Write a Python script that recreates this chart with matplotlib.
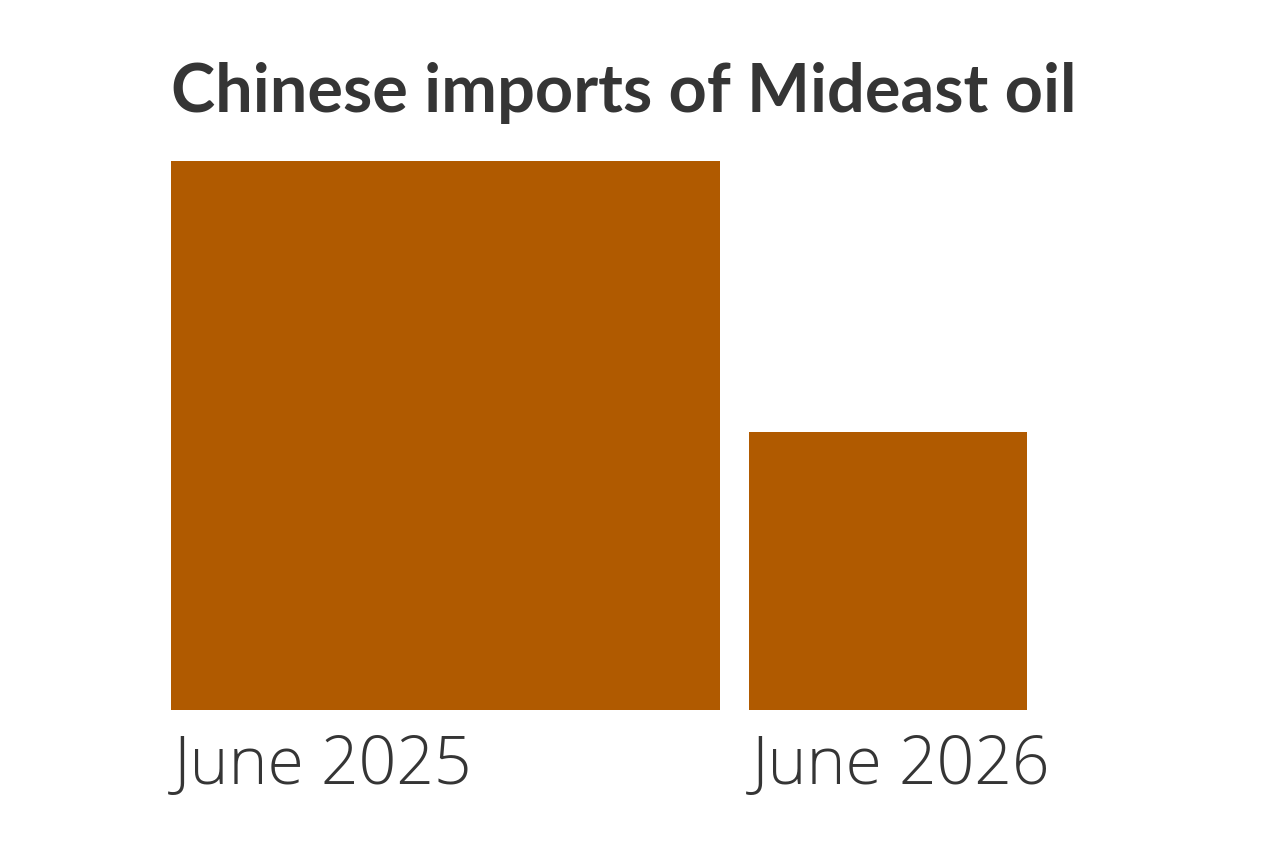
import numpy as np
import matplotlib
matplotlib.use("Agg")
import matplotlib.pyplot as plt
from matplotlib import transforms

# relative import volumes (square area proportional to value)
periods = ["June 2025", "June 2026"]
imports = [100.0, 25.6]

title = "Chinese imports of Mideast oil"
bar_color = "#B05A00"
text_color = "#353535"

sides = np.sqrt(imports)
gap = 0.53
lefts = [0.0, sides[0] + gap]

fig = plt.figure(figsize=(12.8, 8.55), dpi=100)
W, H = 1280, 855
px_per_unit = 549 / sides[0]
total_w = lefts[1] + sides[1]
ax = fig.add_axes([171 / W, 145 / H, total_w * px_per_unit / W, sides[0] * px_per_unit / H])

ax.bar(lefts, sides, width=sides, align="edge", color=bar_color, linewidth=0)
ax.set_xlim(0, total_w)
ax.set_ylim(0, sides[0])
ax.axis("off")

trans = transforms.blended_transform_factory(ax.transData, fig.transFigure)
for x, lab in zip(lefts, periods):
    ax.text(x + 0.05, 1 - 784 / H, lab, transform=trans, ha="left", va="baseline",
            fontsize=47.5, fontfamily="Open Sans", fontweight="light", color=text_color)

fig.text(171 / W, 1 - 112 / H, title, ha="left", va="baseline",
         fontsize=48, fontfamily="Lato", fontweight="bold", color=text_color)

fig.savefig("out.png", dpi=100, facecolor="white")
